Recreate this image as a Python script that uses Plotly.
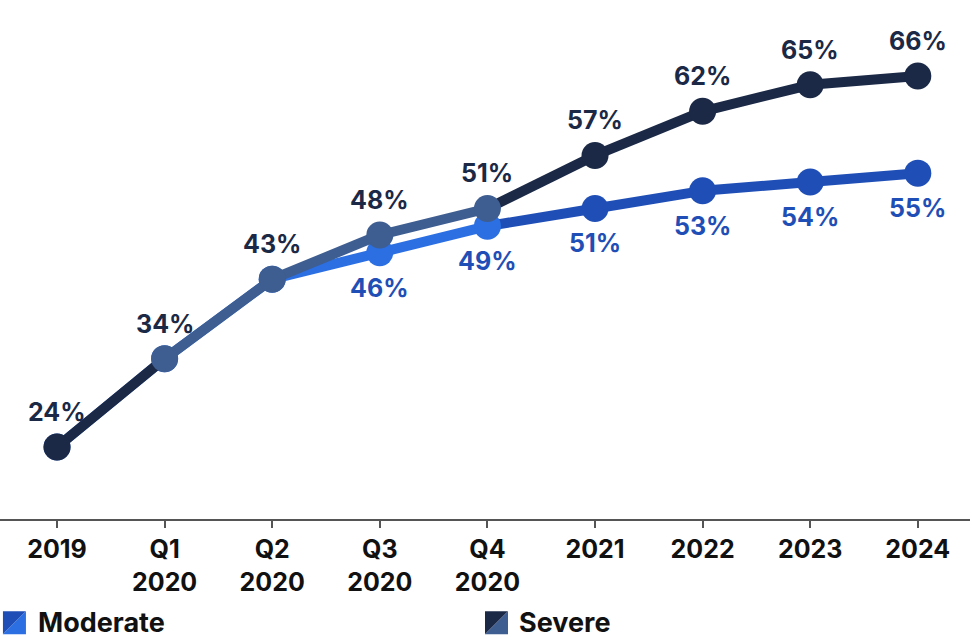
import plotly.graph_objects as go

# Periods on the x axis
periods = ["2019", "Q1 2020", "Q2 2020", "Q3 2020", "Q4 2020", "2021", "2022", "2023", "2024"]
tick_text = ["2019", "Q1<br>2020", "Q2<br>2020", "Q3<br>2020", "Q4<br>2020", "2021", "2022", "2023", "2024"]
# True where the period is a quarter of 2020
is_quarter = [False, True, True, True, True, False, False, False, False]

# Share of respondents (%)
severe = [24, 34, 43, 48, 51, 57, 62, 65, 66]
moderate = [24, 34, 43, 46, 49, 51, 53, 54, 55]

series = [
    # name, values, annual colour, quarterly colour, label offset (px)
    ("Moderate", moderate, "#1f4fb6", "#2b6fe3", -35),
    ("Severe", severe, "#1b2946", "#3e5d90", 35),
]

FONT = "Inter"
LINE_W = 10
MARKER = 27

fig = go.Figure()
idx = list(range(len(periods)))

for name, vals, c_year, c_q, _ in series:
    # line segments, coloured by period type
    for i in range(len(vals) - 1):
        col = c_q if (is_quarter[i] and is_quarter[i + 1]) else c_year
        fig.add_trace(go.Scatter(
            x=idx[i:i + 2], y=vals[i:i + 2], mode="lines",
            line=dict(color=col, width=LINE_W),
            showlegend=False, hoverinfo="skip",
        ))
    # markers
    fig.add_trace(go.Scatter(
        x=idx, y=vals, mode="markers", name=name,
        marker=dict(size=MARKER, color=[c_q if q else c_year for q in is_quarter]),
        showlegend=False,
    ))

# value labels
annotations = []
for name, vals, c_year, c_q, dy in series:
    text_col = "#1f4fb6" if name == "Moderate" else "#1b2946"
    for i, v in enumerate(vals):
        if name == "Moderate" and v == severe[i]:
            continue
        annotations.append(dict(
            x=idx[i], y=v, xref="x", yref="y", text=f"{v}%", showarrow=False,
            yshift=dy, font=dict(family=FONT, size=25, color=text_col, weight=700),
        ))

# custom legend: diagonally split swatches
legend_items = [("Moderate", "#1f4fb6", "#2b6fe3", 0.003, 0.037),
                ("Severe", "#1b2946", "#3e5d90", 0.5, 0.533)]
LEG_Y = -0.2
shapes = []
for label, dark, light, sx, tx in legend_items:
    shapes.append(dict(type="path", xref="paper", yref="paper",
                       xsizemode="pixel", ysizemode="pixel",
                       xanchor=sx, yanchor=LEG_Y,
                       path="M0,-11.5 L0,11.5 L23,11.5 Z", fillcolor=dark, line=dict(width=0)))
    shapes.append(dict(type="path", xref="paper", yref="paper",
                       xsizemode="pixel", ysizemode="pixel",
                       xanchor=sx, yanchor=LEG_Y,
                       path="M0,-11.5 L23,11.5 L23,-11.5 Z", fillcolor=light, line=dict(width=0)))
    annotations.append(dict(
        x=tx, y=LEG_Y, xref="paper", yref="paper", xanchor="left", yanchor="middle",
        text=label, showarrow=False,
        font=dict(family=FONT, size=27, color="#111111", weight=700),
    ))

fig.update_layout(
    width=975, height=638,
    margin=dict(l=0, r=5, t=0, b=119),
    paper_bgcolor="white", plot_bgcolor="white",
    showlegend=False,
    annotations=annotations,
    shapes=shapes,
    xaxis=dict(
        tickmode="array", tickvals=idx, ticktext=tick_text,
        range=[-0.53, 8.485],
        showgrid=False, zeroline=False,
        showline=True, linecolor="#555555", linewidth=2,
        ticks="outside", ticklen=7, tickwidth=2, tickcolor="#555555",
        tickfont=dict(family=FONT, size=25, color="#111111", weight=700),
    ),
    yaxis=dict(range=[15.85, 74.6], visible=False, showgrid=False, zeroline=False),
)

fig.write_html("out.html")
